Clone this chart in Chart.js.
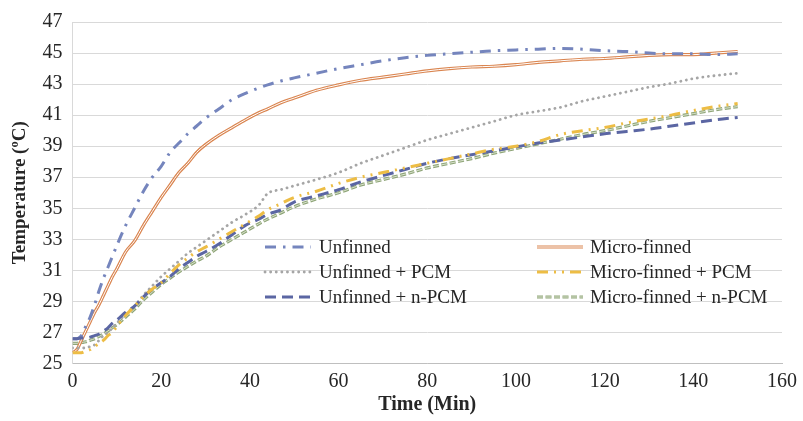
<!DOCTYPE html>
<html>
<head>
<meta charset="utf-8">
<script src="https://cdn.jsdelivr.net/npm/chart.js@4.4.1/dist/chart.umd.min.js"></script>
<style>
  body { margin: 0; background: #fff; }
  #wrap { width: 803px; height: 421px; position: relative; }
</style>
</head>
<body>
<div id="wrap"><canvas id="myChart"></canvas></div>
<script>
// time in minutes
const times = [0, 1, 2, 3, 4, 5, 6, 7, 8, 9, 10, 12, 14, 16, 18, 20, 22, 24, 26, 28, 30, 33, 36, 39, 42, 44, 47, 50,
  55, 60, 65, 70, 75, 80, 85, 90, 95, 100, 105, 110, 115, 120, 125, 130, 135, 140, 145, 150];

// temperatures (ºC)
const unfinned = [26.6, 26.6, 26.8, 27.4, 28.0, 28.8, 29.7, 30.5, 31.2, 31.9, 32.6, 33.9, 35.0, 36.1, 37.0, 37.7, 38.6,
  39.2, 39.8, 40.3, 40.8, 41.4, 42.0, 42.4, 42.75, 42.95, 43.2, 43.4, 43.7, 44.0, 44.25, 44.5, 44.7, 44.85, 44.95,
  45.05, 45.15, 45.2, 45.25, 45.3, 45.25, 45.15, 45.1, 45.0, 44.95, 44.95, 44.9, 44.95];
const microFinned = [25.7, 25.9, 26.5, 27.1, 27.7, 28.3, 28.8, 29.4, 30.0, 30.6, 31.1, 32.2, 32.9, 33.9, 34.8, 35.7, 36.5,
  37.3, 37.9, 38.6, 39.1, 39.7, 40.2, 40.7, 41.15, 41.4, 41.8, 42.1, 42.6, 42.95, 43.25, 43.45, 43.65, 43.85, 44.0,
  44.1, 44.15, 44.25, 44.4, 44.5, 44.6, 44.65, 44.75, 44.85, 44.9, 44.9, 45.0, 45.1];
const unfinnedPCM = [26.0, 26.0, 26.0, 26.0, 26.1, 26.2, 26.5, 26.8, 27.0, 27.3, 27.6, 28.2, 28.7, 29.4, 30.0, 30.6, 31.1,
  31.6, 32.1, 32.5, 32.9, 33.5, 34.1, 34.6, 35.2, 35.95, 36.2, 36.45, 36.85, 37.3, 37.9, 38.4, 38.9, 39.4, 39.8,
  40.2, 40.6, 41.0, 41.25, 41.5, 41.9, 42.2, 42.5, 42.8, 43.05, 43.35, 43.55, 43.7];
const microFinnedPCM = [25.7, 25.7, 25.7, 25.8, 25.9, 26.1, 26.3, 26.5, 26.8, 27.0, 27.4, 28.1, 28.7, 29.3, 29.8, 30.2,
  30.8, 31.35, 31.8, 32.2, 32.5, 33.0, 33.5, 34.0, 34.5, 34.9, 35.3, 35.7, 36.1, 36.6, 37.0, 37.3, 37.6, 37.9, 38.2,
  38.5, 38.8, 39.0, 39.3, 39.75, 40.0, 40.2, 40.5, 40.75, 41.0, 41.3, 41.55, 41.75];
const unfinnedNPCM = [26.6, 26.6, 26.65, 26.65, 26.7, 26.8, 26.9, 27.1, 27.3, 27.6, 27.8, 28.3, 28.7, 29.3, 29.8, 30.2,
  30.6, 31.1, 31.5, 31.9, 32.2, 32.7, 33.3, 33.9, 34.3, 34.6, 34.9, 35.4, 35.8, 36.2, 36.7, 37.1, 37.5, 37.9, 38.2,
  38.45, 38.7, 38.95, 39.2, 39.4, 39.6, 39.8, 39.95, 40.1, 40.3, 40.5, 40.7, 40.85];
const microFinnedNPCM = [26.3, 26.3, 26.35, 26.4, 26.5, 26.6, 26.75, 26.9, 27.1, 27.3, 27.5, 28.0, 28.5, 29.1, 29.6, 30.1,
  30.5, 30.9, 31.25, 31.6, 31.9, 32.5, 33.0, 33.5, 34.0, 34.3, 34.7, 35.1, 35.6, 36.0, 36.5, 36.85, 37.2, 37.6, 37.9,
  38.2, 38.55, 38.85, 39.15, 39.45, 39.75, 40.0, 40.3, 40.6, 40.85, 41.1, 41.35, 41.55];

const seriesNames = ['Unfinned', 'Micro-finned', 'Unfinned + PCM', 'Micro-finned + PCM', 'Unfinned + n-PCM', 'Micro-finned + n-PCM'];
const xTicks = [0, 20, 40, 60, 80, 100, 120, 140, 160];
const yTicks = [25, 27, 29, 31, 33, 35, 37, 39, 41, 43, 45, 47];

const SERIF = '"Liberation Serif", "Times New Roman", Times, serif';
const pts = vals => times.map((t, i) => ({ x: t, y: vals[i] }));

function line(label, vals, color, width, dash, cap, extra) {
  return Object.assign({
    label: label,
    data: pts(vals),
    borderColor: color,
    backgroundColor: color,
    borderWidth: width,
    borderDash: dash,
    borderCapStyle: cap || 'butt',
    pointRadius: 0,
    fill: false,
    cubicInterpolationMode: 'monotone'
  }, extra || {});
}

// lower order is drawn on top; inner strokes make the "double line" look
const datasets = [
  line(seriesNames[0], unfinned, '#7585BD', 3, [11, 7, 2.5, 7], 'butt', { order: 3 }),
  line(seriesNames[1], microFinned, '#DA8550', 3.2, [], 'butt', { order: 6 }),
  line('', microFinned, '#ffffff', 1, [], 'butt', { inner: true, order: 5 }),
  line(seriesNames[2], unfinnedPCM, '#A6A6A6', 2.8, [0.1, 5.5], 'round', { order: 4 }),
  line(seriesNames[3], microFinnedPCM, '#EDBD45', 3, [11, 6, 2, 6, 2, 6], 'butt', { order: 0 }),
  line(seriesNames[4], unfinnedNPCM, '#5B66A3', 3, [11, 6], 'butt', { order: 1 }),
  line(seriesNames[5], microFinnedNPCM, '#8FA578', 3.2, [6, 2.5], 'butt', { order: 8 }),
  line('', microFinnedNPCM, '#D9E2CD', 1, [6, 2.5], 'butt', { inner: true, order: 7 })
];

// legend drawn inside the plot, two columns
const legendPlugin = {
  id: 'innerLegend',
  afterDraw(chart) {
    const ctx = chart.ctx;
    const sampleX = [265, 537];
    const sampleW = [46, 46];
    const textX = [319, 590];
    const rowY = [247, 272, 297];
    const all = chart.data.datasets;
    const main = all.filter(d => !d.inner);
    main.forEach((ds, i) => {
      const col = i % 2, row = Math.floor(i / 2);
      const y = rowY[row];
      const drawSample = d => {
        ctx.save();
        ctx.strokeStyle = d.borderColor;
        ctx.lineWidth = d.borderWidth;
        ctx.lineCap = d.borderCapStyle;
        ctx.setLineDash(d.borderDash);
        ctx.beginPath();
        ctx.moveTo(sampleX[col], y);
        ctx.lineTo(sampleX[col] + sampleW[col], y);
        ctx.stroke();
        ctx.restore();
      };
      drawSample(ds);
      const nxt = all[all.indexOf(ds) + 1];
      if (nxt && nxt.inner) drawSample(nxt);
      ctx.save();
      ctx.font = 'normal normal 19px ' + SERIF;
      ctx.fillStyle = '#262626';
      ctx.textBaseline = 'middle';
      ctx.textAlign = 'left';
      ctx.fillText(ds.label, textX[col], y + 1);
      ctx.restore();
    });
  }
};

const ctx = document.getElementById('myChart').getContext('2d');

const myChart = new Chart(ctx, {
  type: 'line',
  data: { datasets: datasets },
  plugins: [legendPlugin],
  options: {
    responsive: true,
    maintainAspectRatio: false,
    animation: false,
    layout: { padding: { top: 16, right: 16, bottom: 0, left: 0 } },
    plugins: {
      legend: { display: false },
      tooltip: { enabled: false }
    },
    scales: {
      x: {
        type: 'linear',
        min: 0,
        max: 160,
        afterBuildTicks: s => { s.ticks = xTicks.map(v => ({ value: v })); },
        afterFit: s => { s.height = 57.5; },
        grid: { display: false, drawTicks: false },
        border: { display: true, color: '#BFBFBF', width: 1 },
        ticks: {
          padding: 6,
          color: '#262626',
          font: { family: SERIF, size: 20 }
        },
        title: {
          display: true,
          text: 'Time (Min)',
          color: '#262626',
          padding: { top: 0, bottom: 4 },
          font: { family: SERIF, size: 20, weight: 'bold' }
        }
      },
      y: {
        min: 25,
        max: 47,
        afterBuildTicks: s => { s.ticks = yTicks.map(v => ({ value: v })); },
        afterFit: s => { s.width = 72.5; },
        grid: { color: '#D9D9D9', lineWidth: 1, drawTicks: false },
        border: { display: true, color: '#D9D9D9', width: 1 },
        ticks: {
          padding: 10,
          color: '#262626',
          font: { family: SERIF, size: 20 }
        },
        title: {
          display: true,
          text: 'Temperature (ºC)',
          color: '#262626',
          padding: { top: 9, bottom: 0 },
          font: { family: SERIF, size: 19, weight: 'bold' }
        }
      }
    }
  }
});
</script>
</body>
</html>
